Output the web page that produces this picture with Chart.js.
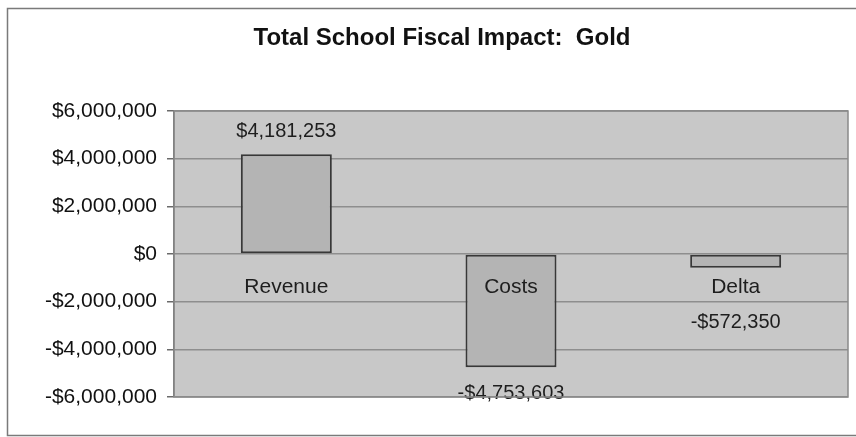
<!DOCTYPE html>
<html>
<head>
<meta charset="utf-8">
<script src="https://cdn.jsdelivr.net/npm/chart.js@4/dist/chart.umd.min.js"></script>
<style>
  html, body { margin: 0; padding: 0; background: #ffffff; }
  #chart { display: block; }
</style>
</head>
<body>
<canvas id="chart" width="856" height="437"></canvas>
<script>
const chartTitle = 'Total School Fiscal Impact:  Gold';
const categories = ['Revenue', 'Costs', 'Delta'];
const fiscalValues = [4181253, -4753603, -572350];
const valueLabels = ['$4,181,253', '-$4,753,603', '-$572,350'];
const tickValues = [-6000000, -4000000, -2000000, 0, 2000000, 4000000, 6000000];

const FONT = '"Liberation Sans", Arial, sans-serif';

function money(v) {
    const s = Math.abs(v).toLocaleString('en-US');
    return (v < 0 ? '-$' : '$') + s;
}

// frame round the whole chart, title, and grey plot background
const backdrop = {
    id: 'backdrop',
    beforeDraw(chart) {
        const ctx = chart.ctx;
        const a = chart.chartArea;
        ctx.save();
        ctx.strokeStyle = '#7a7a7a';
        ctx.lineWidth = 1.5;
        ctx.strokeRect(7.5, 8.5, 860, 427);
        ctx.fillStyle = '#c8c8c8';
        ctx.fillRect(a.left, a.top, a.right - a.left, a.bottom - a.top);

        ctx.fillStyle = '#111111';
        ctx.font = 'bold 24px ' + FONT;
        ctx.textAlign = 'center';
        ctx.textBaseline = 'alphabetic';
        ctx.fillText(chartTitle, 442, 45);
        ctx.restore();
    },
    afterDraw(chart) {
        const ctx = chart.ctx;
        const a = chart.chartArea;
        ctx.save();
        ctx.strokeStyle = '#8a8a8a';
        ctx.lineWidth = 1.5;
        ctx.strokeRect(a.left, a.top, a.right - a.left, a.bottom - a.top);
        ctx.restore();
    }
};

// category names sit just under the zero line, value labels beyond the bar ends
const barText = {
    id: 'barText',
    afterDatasetsDraw(chart, args, opts) {
        const ctx = chart.ctx;
        const meta = chart.getDatasetMeta(0);
        const zero = chart.scales.y.getPixelForValue(0);
        ctx.save();
        ctx.fillStyle = '#1e1e1e';
        ctx.textAlign = 'center';
        ctx.textBaseline = 'middle';
        meta.data.forEach((bar, i) => {
            ctx.font = '21px ' + FONT;
            ctx.fillText(categories[i], bar.x, zero + opts.catOffset);
            ctx.font = '20px ' + FONT;
            const v = fiscalValues[i];
            const y = v >= 0 ? bar.y - opts.valueOffsets[i] : bar.y + opts.valueOffsets[i];
            ctx.fillText(valueLabels[i], bar.x, y);
        });
        ctx.restore();
    }
};

new Chart(document.getElementById('chart'), {
    type: 'bar',
    data: {
        labels: categories,
        datasets: [{
            data: fiscalValues,
            backgroundColor: '#b4b4b4',
            borderColor: '#383838',
            borderWidth: 2,
            borderSkipped: false,
            barPercentage: 0.405,
            categoryPercentage: 1.0
        }]
    },
    options: {
        responsive: false,
        animation: false,
        layout: { padding: { left: 0, right: 8, top: 111, bottom: 40 } },
        plugins: {
            legend: { display: false },
            tooltip: { enabled: false },
            title: { display: false },
            barText: { catOffset: 33, valueOffsets: [23, 26, 55] }
        },
        scales: {
            x: {
                display: false
            },
            y: {
                min: -6000000,
                max: 6000000,
                afterBuildTicks(scale) {
                    scale.ticks = tickValues.map(v => ({ value: v }));
                },
                afterFit(scale) {
                    scale.width = 174;
                },
                border: { display: true, color: '#6a6a6a', width: 1.5 },
                grid: {
                    color: '#8e8e8e',
                    lineWidth: 1.5,
                    tickLength: 7,
                    tickColor: '#6a6a6a'
                },
                ticks: {
                    color: '#111111',
                    padding: 10,
                    font: { family: FONT, size: 21 },
                    callback: v => money(v)
                }
            }
        }
    },
    plugins: [backdrop, barText]
});
</script>
</body>
</html>
